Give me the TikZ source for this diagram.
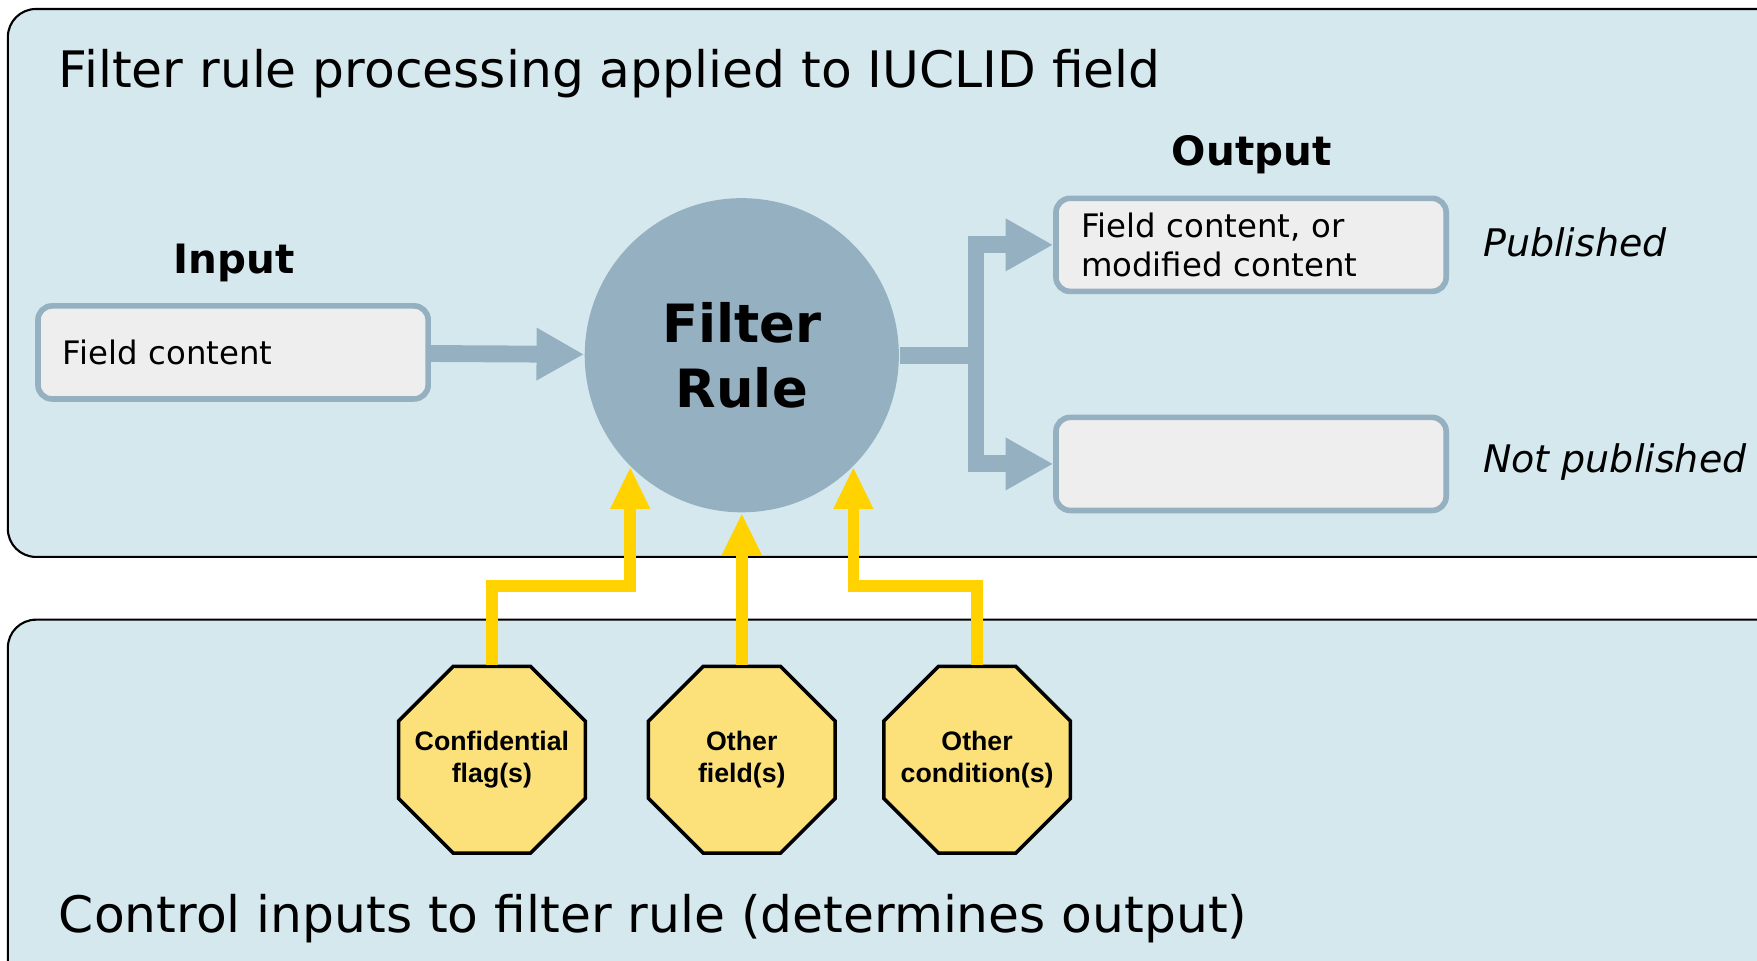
\documentclass[tikz,border=0pt]{standalone}
\usepackage{fontspec}
\setmainfont{DejaVu Sans}
\newfontfamily\arialfont{Liberation Sans}
\usepackage{tikz}
\usetikzlibrary{arrows.meta,shapes.geometric}

\definecolor{panelblue}{RGB}{213,232,238}
\definecolor{rulegray}{RGB}{148,176,193}
\definecolor{boxgray}{RGB}{238,238,238}
\definecolor{ctrlyellow}{RGB}{255,210,0}
\definecolor{octyellow}{RGB}{252,225,122}

\tikzset{
    panel/.style={draw=black, line width=0.6pt, fill=panelblue, rounded corners=8pt},
    fieldbox/.style={draw=rulegray, line width=1.6pt, fill=boxgray, rounded corners=4pt,
        minimum width=3.9cm, minimum height=0.93cm, text width=3.4cm, align=left,
        inner xsep=7pt, font=\fontsize{9.2}{11}\selectfont},
    control/.style={regular polygon, regular polygon sides=8, minimum size=2.02cm,
        inner sep=0pt, draw=black, line width=1pt, fill=octyellow},
    ctrltext/.style={align=center, inner sep=0pt,
        font=\arialfont\bfseries\fontsize{7.6}{9.2}\selectfont},
    flow/.style={draw=rulegray, line width=4.8pt},
    flowarrow/.style={flow, -{Triangle[length=13.5pt,width=14pt]}},
    ctrlarrow/.style={draw=ctrlyellow, line width=3.3pt, -{Triangle[length=12pt,width=10.5pt]}},
    heading/.style={font=\bfseries\fontsize{11.5}{14}\selectfont},
    status/.style={anchor=west, inner sep=0pt, font=\itshape\fontsize{10.8}{13}\selectfont},
    caption/.style={anchor=base west, inner sep=0pt, font=\fontsize{14.3}{17}\selectfont}
}

\begin{document}
\begin{tikzpicture}[x=0.011205cm, y=-0.011205cm]
    \useasboundingbox (0,0) rectangle (1568,857);
    \clip (0,0) rectangle (1568,857);

    % the two panels
    \draw[panel] (7,8) rectangle (1620,497);
    \draw[panel] (7,553) rectangle (1620,900);
    \node[caption] (T1) at (52,78) {Filter rule processing applied to IUCLID field};
    \node[caption] (T2) at (52,832) {Control inputs to filter rule (determines output)};

    % input, rule and outputs
    \node[heading] (InLbl) at (209,235) {Input};
    \node[fieldbox] (In) at (208,314.5) {Field content};
    \node[circle, fill=rulegray, minimum size=3.14cm, inner sep=0pt, align=center,
        font=\bfseries\fontsize{15}{18.5}\selectfont] (Rule) at (662,317) {Filter\\Rule};
    \node[heading] (OutLbl) at (1117,138) {Output};
    \node[fieldbox] (Out1) at (1116.5,218.5) {Field content, or\\modified content};
    \node[fieldbox] (Out2) at (1116.5,414) {};
    \node[status] (Pub) at (1323,216) {Published};
    \node[status] (NotPub) at (1323,412) {Not published};

    \draw[flowarrow] (In) -- (Rule);
    \coordinate (Split) at (871,317);
    \draw[flow] (Rule.east) -- (Split);
    \draw[flowarrow] (Split) |- (Out1.west);
    \draw[flowarrow] (Split) |- (Out2.west);

    % control inputs
    \node[control, label={[ctrltext]center:Confidential\\flag(s)}] (C1) at (439,678) {};
    \node[control, label={[ctrltext]center:Other\\field(s)}] (C2) at (662,678) {};
    \node[control, label={[ctrltext]center:Other\\condition(s)}] (C3) at (872,678) {};

    \draw[ctrlarrow] (C1.north) -- ++(0,-70) -| (Rule.225);
    \draw[ctrlarrow] (C2.north) -- (Rule.south);
    \draw[ctrlarrow] (C3.north) -- ++(0,-70) -| (Rule.315);
\end{tikzpicture}
\end{document}
